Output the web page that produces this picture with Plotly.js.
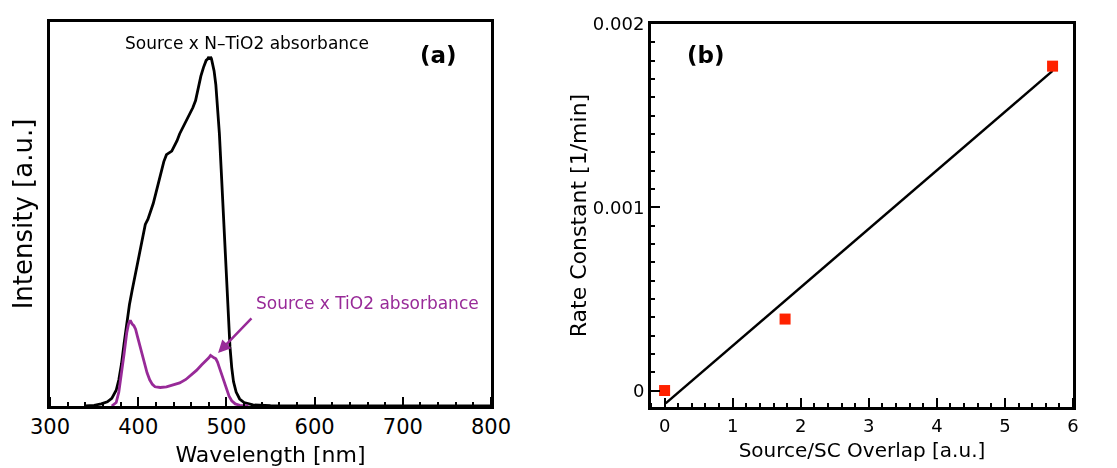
<!DOCTYPE html>
<html>
<head>
<meta charset="utf-8">
<script src="https://cdn.plot.ly/plotly-3.0.1.min.js"></script>
<style>html,body{margin:0;padding:0;background:#fff;}#chart{width:1117px;height:468px;}</style>
</head>
<body>
<div id="chart"></div>
<script>
// Panel (a): wavelength spectra
const nTiO2Wavelength = [340,350,358,365,370,375,378,381,384,387,390,393,396,399,402,405,408,411,414,417,420,423,426,429,432,435,438,441,444,447,450,453,456,459,462,465,468,471,474,477,479,480,481,482,483,484,486,488,490,492,494,496,498,500,502,504,506,508,511,515,520,530,550,600,800];
const nTiO2Intensity = [0,0.002,0.006,0.012,0.022,0.045,0.075,0.12,0.18,0.24,0.29,0.33,0.37,0.41,0.45,0.49,0.52,0.535,0.555,0.58,0.61,0.64,0.67,0.70,0.72,0.725,0.73,0.745,0.76,0.78,0.795,0.81,0.825,0.84,0.855,0.875,0.91,0.945,0.97,0.99,0.995,1.0,0.992,1.0,0.995,0.985,0.96,0.92,0.86,0.78,0.68,0.58,0.46,0.36,0.26,0.17,0.11,0.07,0.04,0.02,0.01,0.003,0.001,0,0];
const tiO2Wavelength = [370,375,378,381,384,387,389,391,393,395,397,399,401,403,405,407,410,413,416,419,425,432,440,447,454,460,466,472,477,480,482,484,486,488,490,492,494,496,498,500,503,506,510,515,525];
const tiO2Intensity = [0,0.01,0.04,0.09,0.15,0.21,0.235,0.245,0.235,0.23,0.22,0.20,0.18,0.16,0.14,0.12,0.095,0.075,0.062,0.055,0.053,0.055,0.06,0.066,0.076,0.088,0.102,0.118,0.13,0.138,0.145,0.14,0.138,0.135,0.125,0.11,0.095,0.078,0.06,0.045,0.028,0.015,0.006,0.002,0];

// Panel (b): rate constant vs overlap
const overlap = [0, 1.77, 5.70];
const rateConstant = [0, 0.00039, 0.00177];
const fitOverlap = [0.015, 5.70];
const fitRate = [-0.00007, 0.001744];

const FONT = 'DejaVu Sans, Verdana, sans-serif';
const PURPLE = '#982a98';

const traces = [
  {x: nTiO2Wavelength, y: nTiO2Intensity, type: 'scatter', mode: 'lines',
   line: {color: '#000', width: 2.8}, xaxis: 'x', yaxis: 'y', hoverinfo: 'skip'},
  {x: tiO2Wavelength, y: tiO2Intensity, type: 'scatter', mode: 'lines',
   line: {color: PURPLE, width: 2.8}, xaxis: 'x', yaxis: 'y', hoverinfo: 'skip'},
  {x: fitOverlap, y: fitRate, type: 'scatter', mode: 'lines',
   line: {color: '#000', width: 2.5}, xaxis: 'x2', yaxis: 'y2'},
  {x: overlap, y: rateConstant, type: 'scatter', mode: 'markers',
   marker: {symbol: 'square', size: 11, color: '#ff2200'}, xaxis: 'x2', yaxis: 'y2'},
  // invisible carriers for the tick-only overlay axes (ticks pointing into the frame)
  {x: tiO2Wavelength, y: tiO2Intensity, type: 'scatter', mode: 'lines', opacity: 0,
   line: {width: 0}, xaxis: 'x3', yaxis: 'y', hoverinfo: 'skip'},
  {x: overlap, y: rateConstant, type: 'scatter', mode: 'markers', opacity: 0,
   xaxis: 'x4', yaxis: 'y2', hoverinfo: 'skip'}
];

const tickOverlay = (over, pos, range, dtick, mdtick, tick0) => ({
  overlaying: over, anchor: 'free', position: pos, side: 'top', range: range,
  tickmode: 'linear', tick0: tick0, dtick: dtick,
  ticks: 'outside', ticklen: 9, tickwidth: 2, tickcolor: 'black',
  minor: {tickmode: 'linear', tick0: tick0, dtick: mdtick, ticks: 'outside', ticklen: 4, tickwidth: 2, tickcolor: 'black', showgrid: false},
  showticklabels: false, showline: false, showgrid: false, zeroline: false
});

const layout = {
  width: 1117, height: 468,
  margin: {l: 0, r: 0, t: 0, b: 0},
  paper_bgcolor: '#fff', plot_bgcolor: '#fff',
  showlegend: false,
  font: {family: FONT, color: '#000'},
  xaxis: {
    domain: [0.0448, 0.4396], range: [300, 800], anchor: 'y',
    tickmode: 'linear', tick0: 300, dtick: 100, ticks: '',
    showline: true, linecolor: 'black', linewidth: 2.5, mirror: true,
    showgrid: false, zeroline: false,
    tickfont: {size: 21, family: FONT},
    title: {text: 'Wavelength [nm]', font: {size: 22, family: FONT}, standoff: 9}
  },
  xaxis3: tickOverlay('x', 0.1325, [300, 800], 100, 20, 300),
  yaxis: {
    domain: [0.1325, 0.953], range: [0, 1.1], anchor: 'x',
    showticklabels: false, ticks: '',
    showline: true, linecolor: 'black', linewidth: 2.5, mirror: true,
    showgrid: false, zeroline: false,
    title: {text: 'Intensity [a.u.]', font: {size: 26, family: FONT}, standoff: 8}
  },
  xaxis2: {
    domain: [0.5828, 0.9606], range: [-0.2, 6], anchor: 'y2',
    tickmode: 'linear', tick0: 0, dtick: 1, ticks: '',
    showline: true, linecolor: 'black', linewidth: 3, mirror: true,
    showgrid: false, zeroline: false,
    tickfont: {size: 18, family: FONT},
    title: {text: 'Source/SC Overlap [a.u.]', font: {size: 20, family: FONT}, standoff: 9}
  },
  xaxis4: tickOverlay('x2', 0.1303, [-0.2, 6], 1, 0.2, 0),
  yaxis2: {
    domain: [0.1303, 0.9487], range: [-0.00009, 0.002], anchor: 'x2',
    tickmode: 'linear', tick0: 0, dtick: 0.001,
    ticks: 'inside', ticklen: 9, tickwidth: 2, tickcolor: 'black',
    minor: {tickmode: 'linear', tick0: 0, dtick: 0.0001, ticks: 'inside', ticklen: 4, tickwidth: 2, tickcolor: 'black', showgrid: false},
    showline: true, linecolor: 'black', linewidth: 3, mirror: true,
    showgrid: false, zeroline: false,
    tickfont: {size: 18, family: FONT},
    title: {text: 'Rate Constant [1/min]', font: {size: 22, family: FONT}, standoff: 1}
  },
  annotations: [
    {xref: 'x', yref: 'y', x: 523, y: 1.04, text: 'Source x N\u2013TiO2 absorbance', showarrow: false,
     font: {size: 17, family: FONT, color: '#000'}},
    {xref: 'x', yref: 'y', x: 740, y: 1.006, text: '<b>(a)</b>', showarrow: false,
     font: {size: 23, family: FONT, color: '#000'}},
    {xref: 'x', yref: 'y', x: 660, y: 0.295, text: 'Source x TiO2 absorbance', showarrow: false,
     font: {size: 17, family: FONT, color: PURPLE}},
    {xref: 'x', yref: 'y', axref: 'x', ayref: 'y', x: 490.5, y: 0.152, ax: 530, ay: 0.255,
     text: '', showarrow: true, arrowhead: 2, arrowsize: 1, arrowwidth: 2.5, arrowcolor: PURPLE},
    {xref: 'x2', yref: 'y2', x: 0.615, y: 0.00183, text: '<b>(b)</b>', showarrow: false,
     font: {size: 23, family: FONT, color: '#000'}}
  ]
};

Plotly.newPlot('chart', traces, layout, {displayModeBar: false});
</script>
</body>
</html>
